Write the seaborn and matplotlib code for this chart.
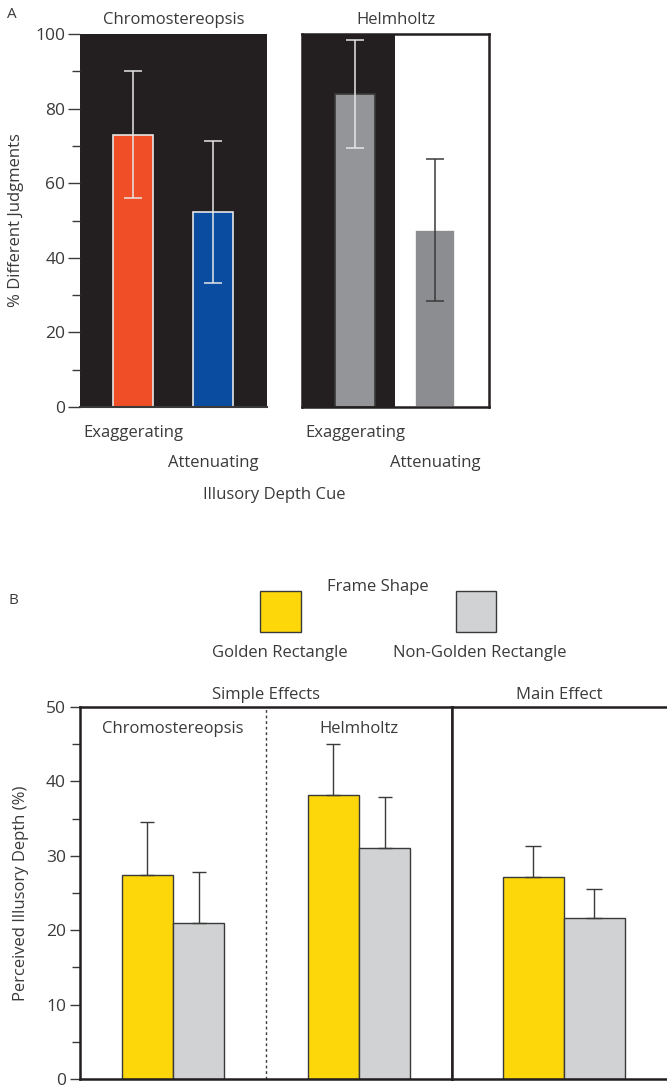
import numpy as np
import pandas as pd
import matplotlib
matplotlib.use("Agg")
import matplotlib.pyplot as plt
import seaborn as sns
from matplotlib.patches import Patch
from matplotlib.ticker import MultipleLocator, FixedLocator

# ---------------- data ----------------
# Panel A: % different judgments
cue_labels = ["Exaggerating", "Attenuating"]
chromo_pct = [73.0, 52.3]
chromo_err = [17.0, 19.0]
helm_pct = [84.0, 47.5]
helm_err = [14.5, 19.0]

# Panel B: perceived illusory depth (%)
illusions = ["Chromostereopsis", "Helmholtz"]
frame_shapes = ["Golden Rectangle", "Non-Golden Rectangle"]
golden_depth = [27.4, 38.2]
golden_err = [7.1, 6.8]
nongolden_depth = [21.0, 31.0]
nongolden_err = [6.8, 6.9]
main_depth = [27.2, 21.6]
main_err = [4.1, 3.9]

# ---------------- style ----------------
sns.set_theme(style="white")
plt.rcParams['font.family'] = ['Open Sans', 'DejaVu Sans']
TXT = '#3a3a3a'
BLACK = '#231F20'
ORANGE = '#EF4E26'
BLUE = '#0A4CA0'
GREY_A = '#939598'
GREY_A2 = '#8C8D90'
YELLOW = '#FDD70A'
LGREY = '#D0D2D3'
EDGE = '#3a3a3a'
LIGHT = '#E6E6E6'
FS = 12
TFS = 12.5

fig = plt.figure(figsize=(6.67, 10.91), dpi=100)
W, H = 667.0, 1091.0


def axrect(x0, y0, x1, y1):
    return [x0 / W, 1 - y1 / H, (x1 - x0) / W, (y1 - y0) / H]


axA1 = fig.add_axes(axrect(80, 34, 267, 407))
axA2 = fig.add_axes(axrect(302, 34, 489, 407))
axB1 = fig.add_axes(axrect(80, 707, 452, 1079))
axB2 = fig.add_axes(axrect(452, 707, 667, 1079))


# ---------------- panel A ----------------
def panel_a(ax, vals, errs, colors, edgecols, errcols, title):
    df = pd.DataFrame({"cue": cue_labels, "pct": vals})
    sns.barplot(data=df, x="cue", y="pct", hue="cue", palette=colors,
                legend=False, width=0.5, saturation=1, errorbar=None,
                linewidth=1.2, ax=ax, zorder=2)
    for p, ec in zip(ax.patches, edgecols):
        p.set_edgecolor(ec)
    for i, (v, e, c) in enumerate(zip(vals, errs, errcols)):
        ax.errorbar(i, v, yerr=e, fmt='none', ecolor=c, elinewidth=1.1,
                    capsize=6.5, capthick=1.1, zorder=3)
    ax.set_xlim(-0.66, 1.67)
    ax.set_ylim(0, 100)
    ax.set_xlabel("")
    ax.set_ylabel("")
    # staggered category labels: first as major tick, second as minor tick
    ax.xaxis.set_major_locator(FixedLocator([0]))
    ax.set_xticklabels([cue_labels[0]])
    ax.xaxis.set_minor_locator(FixedLocator([1]))
    ax.set_xticklabels([cue_labels[1]], minor=True)
    ax.tick_params(axis='x', which='major', bottom=True, length=0, pad=13,
                   labelsize=FS, labelcolor=TXT)
    ax.tick_params(axis='x', which='minor', bottom=True, length=0, pad=34.5,
                   labelsize=FS, labelcolor=TXT)
    ax.set_title(title, fontsize=FS, color=TXT, pad=7)


panel_a(axA1, chromo_pct, chromo_err, [ORANGE, BLUE], [LIGHT, LIGHT],
        [LIGHT, LIGHT], illusions[0])
axA1.set_facecolor(BLACK)
for s in ['top', 'right', 'left']:
    axA1.spines[s].set_visible(False)
axA1.spines['bottom'].set_color(EDGE)
axA1.spines['bottom'].set_linewidth(1.5)
axA1.yaxis.set_major_locator(MultipleLocator(20))
axA1.yaxis.set_minor_locator(MultipleLocator(10))
axA1.tick_params(axis='y', which='major', left=True, length=9, width=1,
                 color=EDGE, direction='out', pad=1.5, labelsize=TFS,
                 labelcolor=TXT)
axA1.tick_params(axis='y', which='minor', left=True, length=6, width=1,
                 color=EDGE, direction='out')
axA1.set_ylabel("% Different Judgments", fontsize=FS, color=TXT, labelpad=8)

axA2.set_facecolor('white')
axA2.axvspan(-0.66, 0.5, color=BLACK, zorder=0, lw=0)
panel_a(axA2, helm_pct, helm_err, [GREY_A, GREY_A2], [LIGHT, EDGE],
        [LIGHT, EDGE], illusions[1])
for s in axA2.spines.values():
    s.set_visible(True)
    s.set_color(BLACK)
    s.set_linewidth(1.8)
axA2.set_yticks([])

fig.text(274 / W, 1 - 495 / H, "Illusory Depth Cue", fontsize=FS, color=TXT,
         ha='center', va='center')
fig.text(12 / W, 1 - 15 / H, "A", fontsize=11, color=TXT, ha='center', va='center')

# ---------------- panel B ----------------
dfB = pd.DataFrame({
    "illusion": illusions * 2,
    "frame": [frame_shapes[0]] * 2 + [frame_shapes[1]] * 2,
    "depth": golden_depth + nongolden_depth,
})
errB = golden_err + nongolden_err
sns.barplot(data=dfB, x="illusion", y="depth", hue="frame", order=illusions,
            hue_order=frame_shapes, palette=[YELLOW, LGREY], width=0.55,
            saturation=1, errorbar=None, edgecolor=EDGE, linewidth=1,
            legend=False, ax=axB1)
for p, e in zip(axB1.patches, errB):
    xc = p.get_x() + p.get_width() / 2
    axB1.errorbar(xc, p.get_height(), yerr=[[0], [e]], fmt='none', ecolor=EDGE,
                  elinewidth=1, capsize=5, capthick=1, zorder=3)

dfM = pd.DataFrame({"effect": ["Main Effect"] * 2, "frame": frame_shapes,
                    "depth": main_depth})
sns.barplot(data=dfM, x="effect", y="depth", hue="frame", hue_order=frame_shapes,
            palette=[YELLOW, LGREY], width=0.57, saturation=1, errorbar=None,
            edgecolor=EDGE, linewidth=1, legend=False, ax=axB2)
for p, e in zip(axB2.patches, main_err):
    xc = p.get_x() + p.get_width() / 2
    axB2.errorbar(xc, p.get_height(), yerr=[[0], [e]], fmt='none', ecolor=EDGE,
                  elinewidth=1, capsize=6, capthick=1, zorder=3)

for ax in (axB1, axB2):
    ax.set_ylim(0, 50)
    ax.set_xticks([])
    ax.set_xlabel("")
    ax.set_ylabel("")
    for s in ax.spines.values():
        s.set_visible(True)
        s.set_color(BLACK)
        s.set_linewidth(1.8)

axB1.set_xlim(-0.5, 1.5)
axB2.set_xlim(-0.52, 0.48)
axB2.spines['right'].set_visible(False)
axB2.set_yticks([])

axB1.yaxis.set_major_locator(MultipleLocator(10))
axB1.yaxis.set_minor_locator(MultipleLocator(5))
axB1.tick_params(axis='y', which='major', left=True, length=7, width=1,
                 color=EDGE, direction='out', pad=3, labelsize=TFS, labelcolor=TXT)
axB1.tick_params(axis='y', which='minor', left=True, length=6, width=1,
                 color=EDGE, direction='out')
axB1.set_ylabel("Perceived Illusory Depth (%)", fontsize=FS, color=TXT, labelpad=12)

axB1.axvline(0.5, color=EDGE, ls=(0, (2, 2)), lw=1)
for i, name in enumerate(illusions):
    axB1.text(i, 46.5, name, ha='center', va='baseline', fontsize=FS, color=TXT)

axB1.set_title("Simple Effects", fontsize=FS, color=TXT, pad=6)
axB2.set_title("Main Effect", fontsize=FS, color=TXT, pad=6)

# legend
handles = [Patch(facecolor=YELLOW, edgecolor=EDGE, lw=1),
           Patch(facecolor=LGREY, edgecolor=EDGE, lw=1)]
leg = fig.legend(handles=handles, labels=['', ''], ncol=2, title="Frame Shape",
                 frameon=False, handlelength=2.45, handleheight=3.35,
                 handletextpad=0, columnspacing=9.3, labelspacing=-0.25,
                 borderpad=0, fontsize=FS, title_fontsize=FS,
                 loc='upper center', bbox_to_anchor=(378 / W, 1 - 571 / H))
leg.get_title().set_color(TXT)
fig.text(280 / W, 1 - 653 / H, frame_shapes[0], fontsize=FS, color=TXT,
         ha='center', va='center')
fig.text(480 / W, 1 - 653 / H, frame_shapes[1], fontsize=FS, color=TXT,
         ha='center', va='center')
fig.text(13 / W, 1 - 600 / H, "B", fontsize=11, color=TXT, ha='center', va='center')

fig.savefig("out.png", dpi=100)
